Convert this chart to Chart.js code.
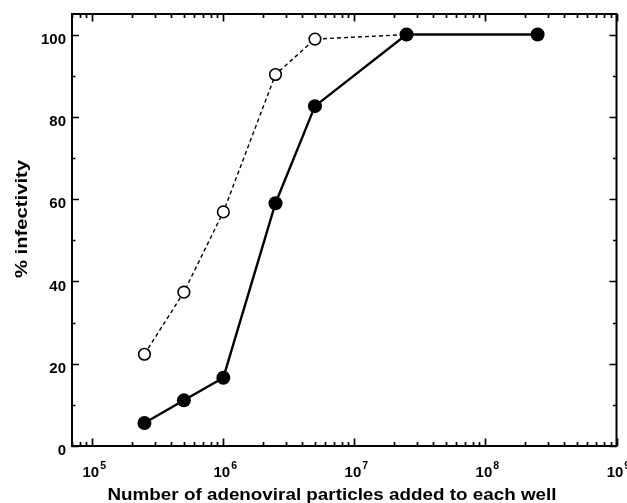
<!DOCTYPE html>
<html><head><meta charset="utf-8">
<script src="https://cdn.jsdelivr.net/npm/chart.js@4"></script>
<style>html,body{margin:0;padding:0;background:#fff}canvas{display:block}</style>
</head><body>
<canvas id="c" width="627" height="503"></canvas>
<script>
// ---- data ----
const filledParticles = [2.5e5, 5e5, 1e6, 2.5e6, 5e6, 2.5e7, 2.5e8];
const filledInfectivity = [5.6, 11.1, 16.6, 59.0, 82.6, 100, 100];
const openParticles = [2.5e5, 5e5, 1e6, 2.5e6, 5e6, 2.5e7];
const openInfectivity = [22.3, 37.4, 56.9, 90.3, 98.9, 100];
const yTickValues = [0, 20, 40, 60, 80, 100];
const yMinorValues = [10, 30, 50, 70, 90];
const xDecadeExponents = [5, 6, 7, 8, 9];
const xTitle = 'Number of adenoviral particles added to each well';
const yTitle = '% infectivity';

const FONT = '"Liberation Sans", Arial, Helvetica, sans-serif';

const axesPlugin = {
  id: 'axesPlugin',
  afterDraw(chart) {
    const ctx = chart.ctx;
    const xs = chart.scales.x, ys = chart.scales.y;
    const a = chart.chartArea;
    ctx.save();
    ctx.strokeStyle = '#000';
    ctx.fillStyle = '#000';
    ctx.lineWidth = 2;
    ctx.strokeRect(a.left, a.top, a.right - a.left, a.bottom - a.top);
    ctx.lineWidth = 1.7;
    ctx.beginPath();
    // y ticks (inward, both sides)
    const yt = (v, len) => {
      const p = Math.round(ys.getPixelForValue(v)) + 0.5;
      ctx.moveTo(a.left, p); ctx.lineTo(a.left + len, p);
      ctx.moveTo(a.right, p); ctx.lineTo(a.right - len, p);
    };
    yTickValues.forEach(v => yt(v, 7));
    yMinorValues.forEach(v => yt(v, 3.5));
    // x ticks (inward, top and bottom)
    const xt = (v, len) => {
      const p = Math.round(xs.getPixelForValue(v)) + 0.5;
      ctx.moveTo(p, a.bottom); ctx.lineTo(p, a.bottom - len);
      ctx.moveTo(p, a.top); ctx.lineTo(p, a.top + len);
    };
    for (let n = 4; n <= 9; n++) {
      for (let k = 1; k <= 9; k++) {
        const v = k * Math.pow(10, n);
        if (v < xs.min || v > xs.max * 1.0001) continue;
        xt(v, k === 1 ? 7.5 : 4);
      }
    }
    ctx.stroke();

    // y tick labels
    ctx.font = 'bold 15px ' + FONT;
    ctx.textAlign = 'right';
    ctx.textBaseline = 'middle';
    yTickValues.forEach(v => {
      ctx.fillText(String(v), a.left - 6, ys.getPixelForValue(v) + 5);
    });

    // x tick labels: 10 with superscript exponent
    ctx.textBaseline = 'alphabetic';
    xDecadeExponents.forEach(e => {
      const p = xs.getPixelForValue(Math.pow(10, e));
      ctx.font = 'bold 15px ' + FONT;
      ctx.textAlign = 'center';
      ctx.fillText('10', p - 1.5, a.bottom + 30.5);
      const w = ctx.measureText('10').width;
      ctx.font = 'bold 10.5px ' + FONT;
      ctx.textAlign = 'left';
      ctx.fillText(String(e), p - 1.5 + w / 2 + 1, a.bottom + 23);
    });

    // x title (stretched horizontally like the reference)
    ctx.font = 'bold 16.5px ' + FONT;
    ctx.textAlign = 'center';
    ctx.textBaseline = 'alphabetic';
    let w = ctx.measureText(xTitle).width;
    ctx.save();
    ctx.translate(332, 500);
    ctx.scale(449 / w, 1);
    ctx.fillText(xTitle, 0, 0);
    ctx.restore();

    // y title
    ctx.font = 'bold 16.5px ' + FONT;
    w = ctx.measureText(yTitle).width;
    ctx.save();
    ctx.translate(26.5, 219);
    ctx.rotate(-Math.PI / 2);
    ctx.scale(118 / w, 1);
    ctx.fillText(yTitle, 0, 0);
    ctx.restore();

    ctx.restore();
  }
};

new Chart(document.getElementById('c'), {
  type: 'scatter',
  data: {
    datasets: [
      {
        label: 'filled',
        data: filledParticles.map((x, i) => ({ x, y: filledInfectivity[i] })),
        showLine: true,
        borderColor: '#000',
        borderWidth: 2.4,
        pointRadius: 7,
        pointBackgroundColor: '#000',
        pointBorderColor: '#000',
        pointBorderWidth: 0,
        tension: 0
      },
      {
        label: 'open',
        data: openParticles.map((x, i) => ({ x, y: openInfectivity[i] })),
        showLine: true,
        borderColor: '#000',
        borderWidth: 1.4,
        borderDash: [4, 3],
        pointRadius: 5.8,
        pointBackgroundColor: '#fff',
        pointBorderColor: '#000',
        pointBorderWidth: 1.6,
        tension: 0
      }
    ]
  },
  options: {
    responsive: false,
    devicePixelRatio: 1,
    animation: false,
    layout: { padding: { left: 72, right: 10.5, top: 14, bottom: 57 } },
    plugins: { legend: { display: false }, tooltip: { enabled: false } },
    scales: {
      x: { type: 'logarithmic', min: 7e4, max: 1e9, display: false },
      y: { type: 'linear', min: 0, max: 105, display: false }
    }
  },
  plugins: [axesPlugin]
});
</script>
</body></html>
